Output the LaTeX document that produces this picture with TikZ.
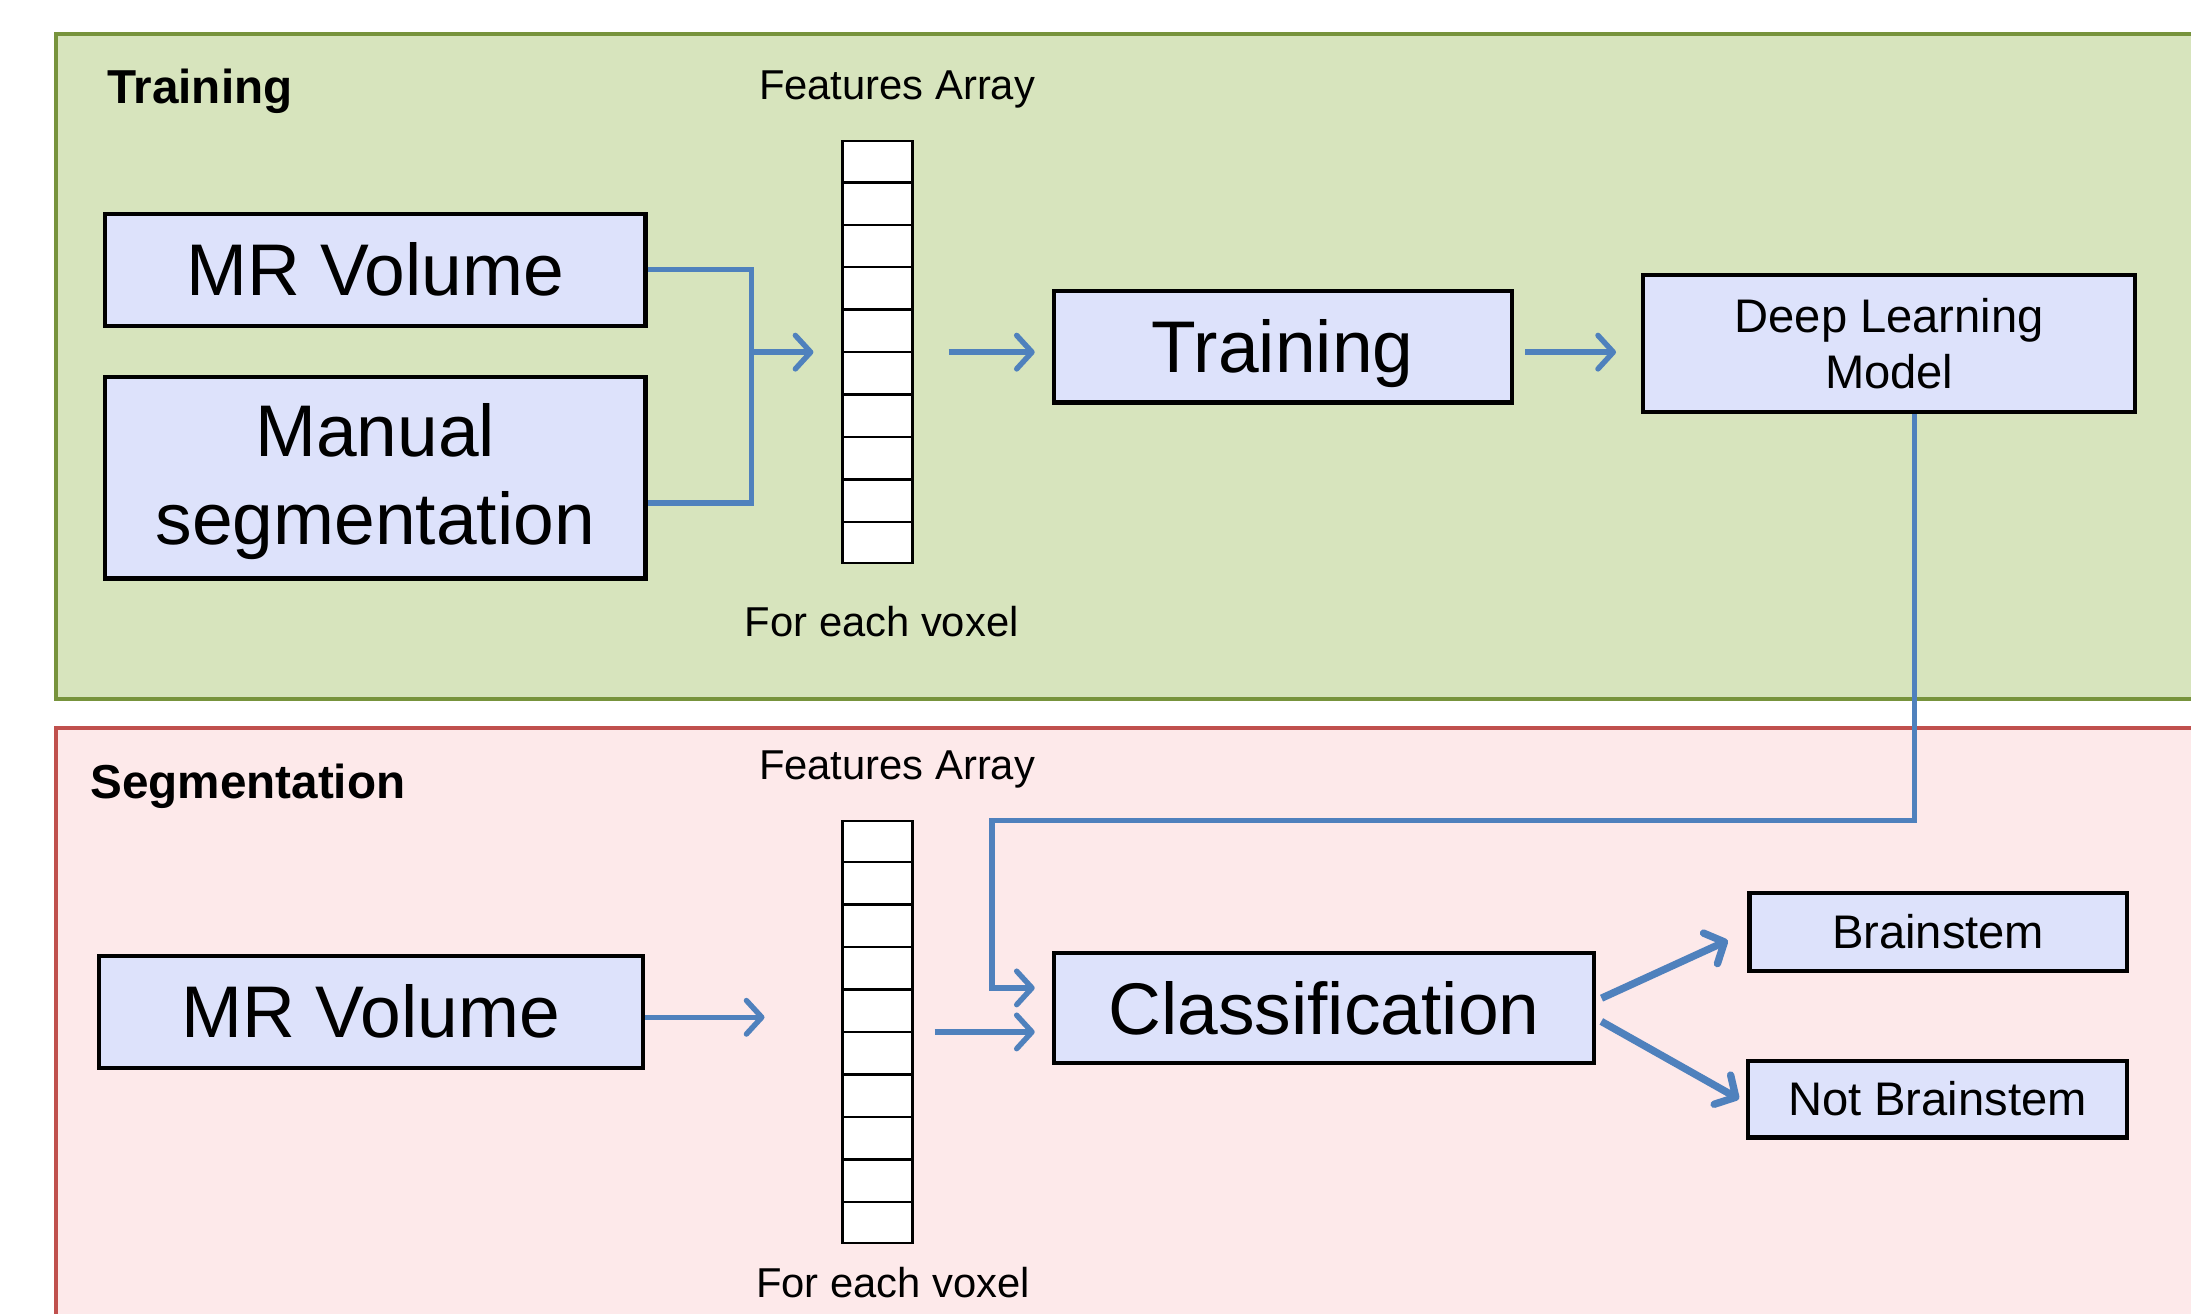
\documentclass[tikz,border=0pt]{standalone}
\usepackage{fontspec}
\setmainfont{Liberation Sans}
\usetikzlibrary{arrows.meta,positioning,calc}
\definecolor{PanelGreen}{RGB}{215,228,189}
\definecolor{PanelGreenEdge}{RGB}{119,147,60}
\definecolor{PanelRed}{RGB}{253,233,234}
\definecolor{PanelRedEdge}{RGB}{192,80,77}
\definecolor{BoxFill}{RGB}{221,226,251}
\definecolor{FlowBlue}{RGB}{79,129,189}

\begin{document}
\begin{tikzpicture}[
    stage/.style={draw=black, line width=0.85pt, fill=BoxFill, inner sep=0pt, align=center},
    bigtext/.style={font=\fontsize{14.9}{17.9}\selectfont},
    bigline/.style={bigtext, text height=0.45cm, text depth=0.075cm},
    midtext/.style={font=\fontsize{9.6}{11.4}\selectfont},
    smalltext/.style={font=\fontsize{8.5}{10}\selectfont},
    paneltitle/.style={font=\fontsize{9.7}{11}\selectfont\bfseries, anchor=west, inner sep=0pt},
    featarray/.style={draw=black, line width=0.5pt, fill=white, minimum width=0.5cm, minimum height=3.02cm, inner sep=0pt},
    cell/.style={draw=black, line width=0.5pt},
    link/.style={draw=FlowBlue, line width=1.1pt},
    flow/.style={link, -{Straight Barb[length=1.1mm, width=2.4mm, line cap=round, line join=round]}},
    split/.style={flow, line width=1.5pt}
  ]
  \useasboundingbox (0,0) rectangle (15.68,-9.40);
  \clip (0,0) rectangle (15.68,-9.40);

  % the two panels
  \draw[fill=PanelGreen, draw=PanelGreenEdge, line width=0.8pt] (0.40,-0.24) rectangle (16.2,-5.00);
  \draw[fill=PanelRed, draw=PanelRedEdge, line width=0.8pt] (0.40,-5.21) rectangle (16.2,-9.9);
  \node[paneltitle] (ttlT) at (0.76,-0.65) {Training};
  \node[paneltitle] (ttlB) at (0.64,-5.63) {Segmentation};

  % training part
  \node[stage, bigline, minimum width=3.87cm, minimum height=0.80cm] (mrT) at (2.685,-1.93) {MR Volume};
  \node[stage, bigtext, minimum width=3.87cm, minimum height=1.44cm, text depth=0.06cm] (manT) at (2.685,-3.42) {Manual\\segmentation};
  \node[featarray] (arrT) at (6.28,-2.52) {};
  \node[smalltext] (fatT) at (6.42,-0.64) {Features Array};
  \node[smalltext] (voxT) at (6.31,-4.45) {For each voxel};
  \node[stage, bigline, minimum width=3.28cm, minimum height=0.80cm] (trainB) at (9.18,-2.48) {Training};
  \node[stage, midtext, minimum width=3.52cm, minimum height=0.98cm] (dlm) at (13.52,-2.46) {Deep Learning\\Model};

  % segmentation part
  \node[stage, bigline, minimum width=3.89cm, minimum height=0.80cm] (mrB) at (2.655,-7.24) {MR Volume};
  \node[featarray] (arrB) at (6.28,-7.385) {};
  \node[smalltext] (fatB) at (6.42,-5.51) {Features Array};
  \node[smalltext] (voxB) at (6.39,-9.18) {For each voxel};
  \node[stage, bigline, minimum width=3.87cm, minimum height=0.79cm] (cls) at (9.475,-7.215) {Classification};
  \node[stage, midtext, minimum width=2.70cm, minimum height=0.56cm] (brain) at (13.87,-6.67) {Brainstem};
  \node[stage, midtext, minimum width=2.71cm, minimum height=0.55cm] (notb) at (13.865,-7.865) {Not Brainstem};

  % cells of the feature arrays
  \foreach \a in {arrT,arrB}
    \foreach \k in {1,...,9}
      \draw[cell] ($(\a.north west)!\k/10!(\a.south west)$) -- ($(\a.north east)!\k/10!(\a.south east)$);

  % connectors
  \coordinate (jT) at (5.38,-2.52);
  \coordinate (bend) at (7.10,-5.87);
  \draw[link] (mrT.east) -| (jT) |- ([yshift=-0.18cm]manT.east);
  \draw[flow, shorten >=0.2cm] (jT) -- (arrT.west);
  \draw[flow, shorten <=0.25cm, shorten >=0.12cm] (arrT.east) -- (arrT.east -| trainB.west);
  \draw[flow, shorten <=0.08cm, shorten >=0.18cm] (trainB.east |- arrT.east) -- (dlm.west |- arrT.east);
  \draw[flow, shorten >=0.12cm] ([xshift=0.18cm]dlm.south) |- (bend) |- ([yshift=0.145cm]cls.west);
  \draw[flow, shorten >=0.55cm] ([yshift=-0.04cm]mrB.east) -- ([yshift=-0.04cm]mrB.east -| arrB.west);
  \draw[flow, shorten <=0.15cm, shorten >=0.12cm] (arrB.east) -- (arrB.east -| cls.west);
  \draw[split, shorten <=0.04cm] ([yshift=0.055cm]cls.east) -- ([xshift=-0.14cm, yshift=-0.06cm]brain.west);
  \draw[split, shorten <=0.04cm] ([yshift=-0.075cm]cls.east) -- ([xshift=-0.05cm]notb.west);
\end{tikzpicture}
\end{document}
